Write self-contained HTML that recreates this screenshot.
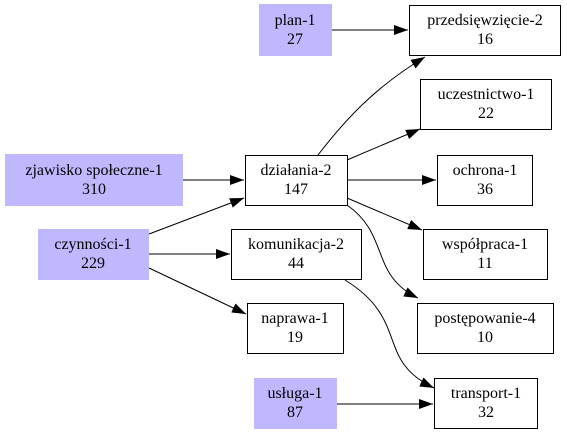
<!DOCTYPE html>
<html><head><meta charset="utf-8"><style>
html,body{margin:0;padding:0;background:#fff;}
svg{display:block;}
text{font-family:"Liberation Serif",serif;font-size:16px;fill:#000;text-anchor:middle;}
</style></head><body>
<svg width="567" height="435" viewBox="0 0 567 435" xmlns="http://www.w3.org/2000/svg">
<defs><marker id="a" markerWidth="14" markerHeight="10" refX="14" refY="5" orient="auto" markerUnits="userSpaceOnUse"><path d="M0,0L14,5L0,10z" fill="#000"/></marker></defs>
<g fill="#c0b8ff" stroke="none">
<rect x="259" y="4" width="73" height="52"/>
<rect x="5" y="154" width="178" height="52"/>
<rect x="38" y="229" width="111" height="51"/>
<rect x="254" y="378" width="83" height="51"/>
</g>
<g fill="#fff" stroke="#000" stroke-width="1">
<rect x="409.5" y="5.5" width="151" height="50"/>
<rect x="420.5" y="79.5" width="131" height="50"/>
<rect x="245.5" y="155.5" width="102" height="50"/>
<rect x="437.5" y="155.5" width="95" height="50"/>
<rect x="231.5" y="229.5" width="130" height="50"/>
<rect x="423.5" y="229.5" width="124" height="50"/>
<rect x="247.5" y="303.5" width="96" height="50"/>
<rect x="417.5" y="303.5" width="136" height="50"/>
<rect x="434.5" y="378.5" width="103" height="50"/>
</g>
<g stroke="#000" fill="none" stroke-width="1" marker-end="url(#a)">
<path d="M332,30L408,30"/>
<path d="M183,180L244,180"/>
<path d="M149,234L244,198"/>
<path d="M149,254L230,254"/>
<path d="M149,268L246,314"/>
<path d="M318,155C345,120 375,87 425,57"/>
<path d="M347,160L420,129"/>
<path d="M347,180L436,180"/>
<path d="M347,198L422,230"/>
<path d="M347,205C390,235 370,275 418,298"/>
<path d="M345,280C410,320 375,360 434,388"/>
<path d="M337,404L433,404"/>
</g>
<text x="295" y="25">plan-1</text><text x="295" y="44">27</text>
<text x="485" y="25">przedsięwzięcie-2</text><text x="485" y="44">16</text>
<text x="486" y="99">uczestnictwo-1</text><text x="486" y="118">22</text>
<text x="94" y="175">zjawisko społeczne-1</text><text x="94" y="194">310</text>
<text x="296" y="175">działania-2</text><text x="296" y="194">147</text>
<text x="485" y="175">ochrona-1</text><text x="485" y="194">36</text>
<text x="93" y="249">czynności-1</text><text x="93" y="268">229</text>
<text x="296" y="249">komunikacja-2</text><text x="296" y="268">44</text>
<text x="485" y="249">współpraca-1</text><text x="485" y="268">11</text>
<text x="295" y="323">naprawa-1</text><text x="295" y="342">19</text>
<text x="485" y="323">postępowanie-4</text><text x="485" y="342">10</text>
<text x="295" y="398">usługa-1</text><text x="295" y="417">87</text>
<text x="486" y="398">transport-1</text><text x="486" y="417">32</text>
</svg>
</body></html>
